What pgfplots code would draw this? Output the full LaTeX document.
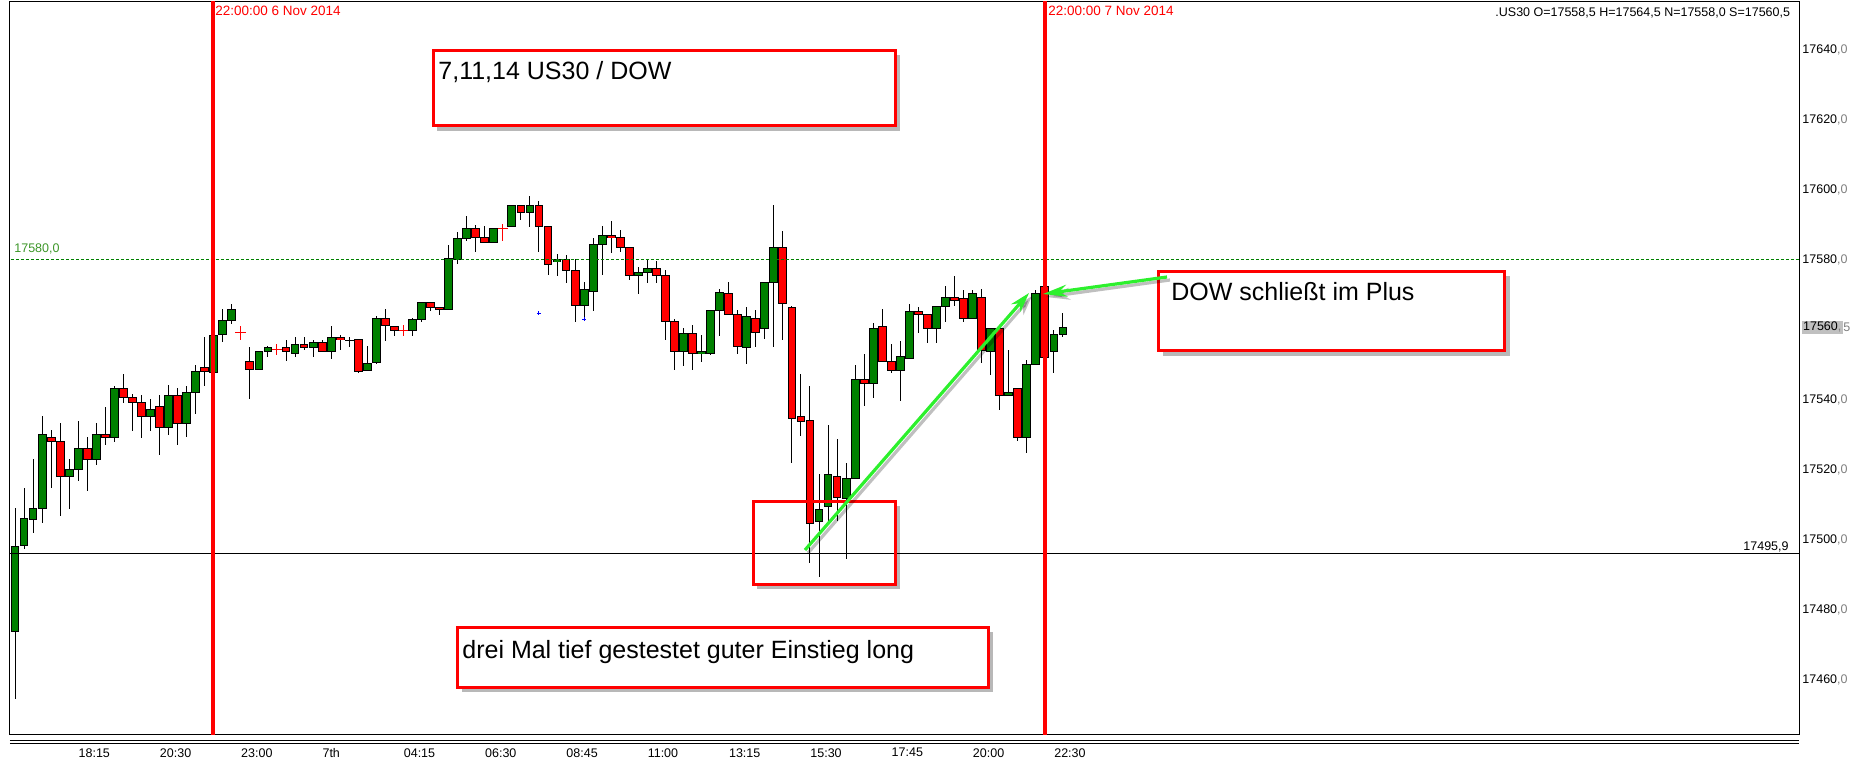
\documentclass[border=0pt]{standalone}
\usepackage{pgfplots}
\pgfplotsset{compat=1.18}
\usepackage{pgfplotstable}
\usepackage{fontspec}
\setmainfont{Liberation Sans}
\usetikzlibrary{arrows.meta}
\definecolor{cgreen}{RGB}{0,128,0}
\definecolor{cred}{RGB}{255,0,0}
\definecolor{lgreen}{RGB}{45,240,45}
\definecolor{lvlgreen}{RGB}{60,150,40}
\definecolor{tgray}{RGB}{128,128,128}
\definecolor{hlgray}{RGB}{192,192,192}
\newcommand{\smallf}{\fontsize{6.25}{7.5}\selectfont}
\newcommand{\datef}{\fontsize{6.75}{8}\selectfont}
\newcommand{\bigf}{\fontsize{12.5}{15}\selectfont}

\pgfplotstableread{
idx o h l c
0 17473.8 17509.1 17454.5 17498.0
1 17498.3 17515.0 17497.5 17506.0
2 17506.0 17523.0 17502.0 17508.9
3 17508.9 17535.3 17504.8 17530.0
4 17529.2 17531.3 17514.8 17528.0
5 17528.0 17533.3 17506.8 17518.0
6 17518.0 17523.0 17508.8 17520.0
7 17520.0 17534.1 17516.8 17526.0
8 17526.0 17529.3 17514.0 17522.9
9 17522.9 17533.3 17521.4 17530.0
10 17530.0 17538.1 17527.1 17529.2
11 17529.2 17544.1 17527.9 17543.2
12 17543.2 17547.3 17539.1 17540.6
13 17540.6 17541.8 17531.0 17539.2
14 17539.2 17541.3 17529.1 17535.2
15 17535.2 17540.1 17531.0 17537.2
16 17538.1 17541.3 17524.0 17532.0
17 17532.0 17544.1 17530.0 17541.2
18 17541.2 17543.3 17527.1 17533.2
19 17533.2 17544.1 17529.4 17542.0
20 17542.0 17550.1 17535.9 17548.0
21 17549.2 17557.9 17543.9 17548.0
22 17547.7 17558.8 17547.2 17558.3
23 17558.6 17565.9 17556.5 17562.6
24 17562.6 17567.4 17561.7 17565.8
26 17550.9 17555.0 17540.2 17548.6
27 17548.6 17553.8 17548.6 17553.8
28 17553.8 17555.4 17552.2 17554.9
30 17554.9 17557.0 17551.1 17553.8
31 17553.2 17557.9 17552.2 17555.8
32 17555.8 17557.9 17554.1 17554.9
33 17554.9 17557.0 17552.2 17556.3
34 17556.3 17557.0 17553.8 17553.8
35 17553.8 17561.1 17551.7 17557.8
36 17557.8 17558.4 17554.2 17557.0
37 17557.0 17557.9 17555.1 17557.0
38 17557.2 17557.2 17547.7 17548.2
39 17548.2 17555.4 17548.2 17550.4
40 17550.8 17563.9 17550.1 17563.2
41 17563.2 17565.9 17556.8 17561.0
42 17561.0 17561.0 17558.2 17559.8
44 17559.8 17563.3 17558.2 17562.9
45 17562.9 17567.8 17562.2 17567.8
46 17567.8 17567.8 17565.4 17566.3
47 17566.4 17566.4 17564.1 17565.8
48 17565.8 17584.1 17565.8 17580.1
49 17580.0 17588.1 17578.7 17586.0
50 17586.0 17592.4 17585.4 17588.9
51 17588.9 17590.1 17582.2 17586.3
52 17586.3 17589.6 17584.9 17584.9
53 17584.9 17588.9 17584.9 17588.9
55 17589.5 17595.5 17589.5 17595.5
56 17595.5 17595.5 17591.4 17593.5
57 17593.5 17598.1 17589.5 17595.5
58 17595.5 17596.7 17582.2 17589.5
59 17589.5 17589.5 17575.7 17578.9
60 17579.5 17581.5 17575.4 17580.0
61 17580.0 17581.5 17573.5 17576.9
62 17576.9 17580.1 17562.2 17566.9
63 17566.9 17573.6 17563.7 17571.5
64 17570.9 17586.3 17565.4 17584.3
65 17584.3 17589.6 17575.7 17586.9
66 17586.9 17591.0 17582.0 17586.3
67 17586.3 17588.4 17582.2 17583.5
68 17583.5 17583.5 17574.2 17575.5
69 17575.5 17577.9 17570.2 17576.3
70 17576.3 17580.3 17573.5 17577.5
71 17577.5 17579.6 17573.5 17575.5
72 17575.5 17577.0 17557.1 17562.3
73 17562.3 17562.9 17548.5 17553.8
74 17553.8 17560.3 17549.7 17558.9
75 17558.9 17561.3 17548.5 17553.2
76 17553.2 17558.4 17550.8 17553.8
77 17553.2 17565.5 17552.7 17565.5
78 17565.5 17571.6 17558.2 17570.9
79 17570.3 17573.6 17564.3 17564.3
80 17564.3 17565.6 17553.1 17555.3
81 17554.9 17566.4 17550.2 17563.8
82 17563.2 17565.6 17555.1 17559.2
83 17560.3 17573.5 17557.3 17573.5
84 17573.5 17595.6 17555.1 17583.5
85 17583.5 17588.1 17557.0 17567.5
86 17566.3 17566.9 17522.0 17534.6
87 17535.2 17547.5 17529.7 17533.9
88 17534.0 17543.9 17493.4 17504.6
89 17505.2 17518.7 17489.4 17508.6
90 17509.5 17532.7 17504.6 17518.6
91 17518.0 17528.8 17505.4 17512.0
92 17512.0 17522.0 17494.5 17517.5
93 17517.5 17549.9 17517.5 17545.8
94 17545.8 17553.2 17538.2 17544.6
95 17544.6 17561.8 17540.5 17560.3
96 17560.9 17565.9 17550.9 17550.9
97 17550.9 17555.9 17547.7 17548.3
98 17548.3 17557.0 17539.7 17552.3
99 17551.8 17567.3 17551.8 17565.2
100 17565.2 17566.4 17559.1 17564.3
101 17564.3 17564.3 17556.2 17560.3
102 17560.3 17566.6 17556.2 17566.6
103 17566.6 17572.4 17562.2 17569.2
104 17569.2 17575.3 17566.9 17568.4
105 17569.2 17571.3 17562.2 17563.2
106 17563.2 17571.3 17563.2 17570.3
107 17569.2 17571.6 17550.5 17554.0
108 17554.0 17560.3 17547.1 17560.3
109 17560.3 17560.3 17537.1 17541.2
110 17541.2 17554.1 17541.2 17542.0
111 17543.2 17543.2 17528.0 17529.2
112 17529.2 17551.2 17524.8 17550.0
113 17550.0 17571.3 17550.0 17570.3
114 17572.3 17573.0 17552.0 17552.0
115 17553.8 17559.9 17547.7 17558.6
116 17558.6 17564.7 17558.1 17560.6
}\candles

\pgfplotstableread{
idx o h l
25 17559.1 17561.0 17557.2
29 17554.4 17555.9 17553.0
43 17559.8 17561.2 17558.2
54 17588.9 17590.3 17585.4
}\dojis

\begin{document}
\begin{tikzpicture}
\begin{axis}[
  at={(0,0)}, anchor=south west,
  scale only axis, width=894.5pt, height=366pt,
  xmin=-0.5535, xmax=197.48, ymin=17444.43, ymax=17653.57,
  axis line style={line width=0.5pt, black},
  xtick={7,16,...,115},
  xticklabels={18:15,20:30,23:00,7th,04:15,06:30,08:45,11:00,13:15,15:30,17:45,20:00,22:30},
  xticklabel style={anchor=west, inner sep=0pt, yshift=-9.35pt, font=\smallf},
  ytick={17460,17480,17500,17520,17540,17580,17600,17620,17640},
  yticklabels={17460{\color{tgray},0},17480{\color{tgray},0},17500{\color{tgray},0},17520{\color{tgray},0},17540{\color{tgray},0},17580{\color{tgray},0},17600{\color{tgray},0},17620{\color{tgray},0},17640{\color{tgray},0}},
  yticklabel pos=right,
  yticklabel style={anchor=west, inner sep=0pt, xshift=1.5pt, font=\smallf},
  major tick length=0pt,
  tick style={draw=none},
]
% wicks
\addplot[draw=none, mark=none, forget plot,
  error bars/.cd, y dir=both, y explicit, error mark=none,
  error bar style={draw=black, line width=0.5pt, solid}]
  table[x=idx, y expr={(\thisrow{h}+\thisrow{l})/2}, y error expr={(\thisrow{h}-\thisrow{l})/2}] {\candles};
% doji wicks and crosses
\addplot[draw=none, mark=none, forget plot,
  error bars/.cd, y dir=both, y explicit, error mark=none,
  error bar style={draw=cred, line width=0.5pt, solid}]
  table[x=idx, y expr={(\thisrow{h}+\thisrow{l})/2}, y error expr={(\thisrow{h}-\thisrow{l})/2}] {\dojis};
\addplot[draw=none, mark=none, forget plot,
  error bars/.cd, x dir=both, x fixed=0.6, error mark=none,
  error bar style={draw=cred, line width=0.5pt, solid}]
  table[x=idx, y=o] {\dojis};
% green bodies
\addplot[draw=none, mark=none, forget plot,
  restrict expr to domain={\thisrow{c}-\thisrow{o}}{0:1000},
  error bars/.cd, y dir=both, y explicit, error mark=none,
  error bar style={draw=black, line width=4.4pt, solid}]
  table[x=idx, y expr={(\thisrow{o}+\thisrow{c})/2}, y error expr={abs(\thisrow{c}-\thisrow{o})/2+0.143}] {\candles};
\addplot[draw=none, mark=none, forget plot,
  restrict expr to domain={\thisrow{c}-\thisrow{o}}{0:1000},
  error bars/.cd, y dir=both, y explicit, error mark=none,
  error bar style={draw=cgreen, line width=3.4pt, solid}]
  table[x=idx, y expr={(\thisrow{o}+\thisrow{c})/2}, y error expr={max(abs(\thisrow{c}-\thisrow{o})/2-0.143,0)}] {\candles};
% red bodies
\addplot[draw=none, mark=none, forget plot,
  restrict expr to domain={\thisrow{o}-\thisrow{c}}{0.001:1000},
  error bars/.cd, y dir=both, y explicit, error mark=none,
  error bar style={draw=black, line width=4.4pt, solid}]
  table[x=idx, y expr={(\thisrow{o}+\thisrow{c})/2}, y error expr={abs(\thisrow{c}-\thisrow{o})/2+0.143}] {\candles};
\addplot[draw=none, mark=none, forget plot,
  restrict expr to domain={\thisrow{o}-\thisrow{c}}{0.001:1000},
  error bars/.cd, y dir=both, y explicit, error mark=none,
  error bar style={draw=cred, line width=3.4pt, solid}]
  table[x=idx, y expr={(\thisrow{o}+\thisrow{c})/2}, y error expr={max(abs(\thisrow{c}-\thisrow{o})/2-0.143,0)}] {\candles};
% blue markers
\addplot[only marks, mark=+, blue, mark size=1pt, line width=0.5pt] coordinates {(58,17564.6) (63,17562.9)};
% level lines
\addplot[cgreen, line width=0.5pt, dash pattern=on 1.5pt off 1pt] coordinates {(-1,17580) (200,17580)};
\addplot[black, line width=0.5pt] coordinates {(-1,17495.9) (200,17495.9)};
% session lines
\addplot[cred, line width=1.67pt] coordinates {(21.9,17440) (21.9,17660)};
\addplot[cred, line width=1.67pt] coordinates {(114,17440) (114,17660)};
\end{axis}

\begin{scope}[x=0.5pt, y=-0.5pt, shift={(-5pt,367pt)}]
  \draw[line width=0.5pt] (10,740.7) -- (1799,740.7);
  \draw[line width=0.5pt] (10,743.3) -- (1799,743.3);
  % labels
  \node[anchor=west, inner sep=0pt, text=cred, font=\datef] at (215,11) {22:00:00 6 Nov 2014};
  \node[anchor=west, inner sep=0pt, text=cred, font=\datef] at (1048,11) {22:00:00 7 Nov 2014};
  \node[anchor=west, inner sep=0pt, font=\smallf] at (1495,13) {.US30 O=17558,5 H=17564,5 N=17558,0 S=17560,5};
  \node[anchor=west, inner sep=0pt, text=lvlgreen, font=\smallf] at (14,249) {17580,0};
  \node[anchor=east, inner sep=0pt, font=\smallf] at (1789,546.7) {17495,9};
  \node[anchor=west, inner sep=0.6pt, fill=hlgray, font=\smallf] (hl) at (1801.5,327.3) {17560{\color{tgray},}};
  \node[anchor=west, inner sep=0pt, text=tgray, font=\smallf] at (hl.east) {5};
  % boxes
  \foreach \a/\b/\c/\d in {433.2/50.8/895.2/125.8, 1158.8/271.5/1504.5/350.5, 753.2/501.5/895.2/584.2, 457.5/627.5/988.2/687}{
    \fill[black, opacity=0.28] (\c+1.5,\b+4) rectangle (\c+5,\d+5);
    \fill[black, opacity=0.28] (\a+4,\d+1.5) rectangle (\c+1.5,\d+5);
    \draw[cred, line width=1.5pt] (\a,\b) rectangle (\c,\d);
  }
  \node[anchor=base west, inner sep=0pt, font=\bigf] at (438,80) {7,11,14 US30 / DOW};
  \node[anchor=base west, inner sep=0pt, font=\bigf] at (1171,300) {DOW schließt im Plus};
  \node[anchor=base west, inner sep=0pt, font=\bigf] at (462,658) {drei Mal tief gestestet guter Einstieg long};
  % arrows
  \draw[black, opacity=0.25, line width=1.6pt, -{Stealth[length=10pt,width=6pt]}] (808,553) -- (1032,296);
  \draw[lgreen, line width=1.6pt, -{Stealth[length=10pt,width=6pt]}] (805,550) -- (1029,293);
  \draw[black, opacity=0.25, line width=1.6pt, -{Stealth[length=12pt,width=6pt]}] (1170,280) -- (1046,297);
  \draw[lgreen, line width=1.6pt, -{Stealth[length=12pt,width=6pt]}] (1167,277) -- (1043,294);
\end{scope}
\pgfresetboundingbox
\path[use as bounding box] (-5pt,-14pt) rectangle (921pt,367pt);
\end{tikzpicture}
\end{document}
